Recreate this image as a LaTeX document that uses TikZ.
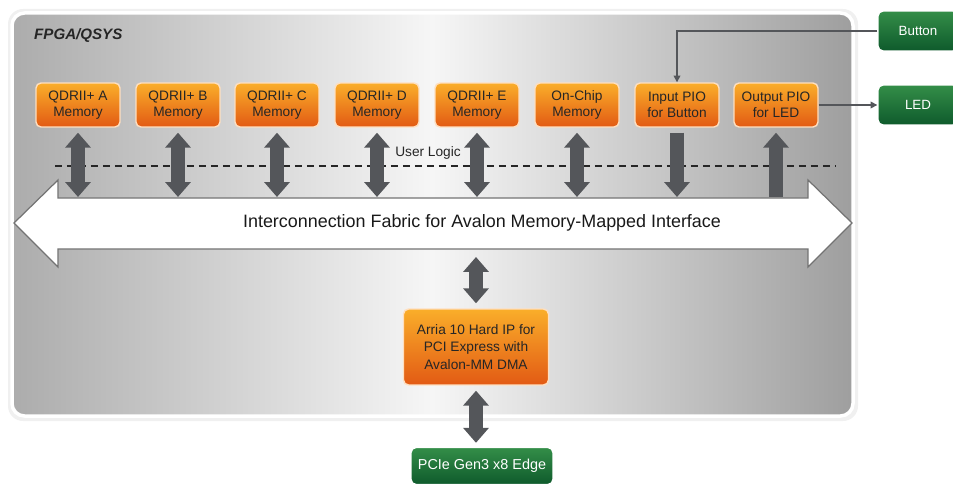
\documentclass[tikz,border=0pt]{standalone}
\usepackage{fontspec}
\setmainfont{Liberation Sans}
\usetikzlibrary{arrows.meta,calc}

\definecolor{orgtop}{RGB}{250,174,42}
\definecolor{orgbot}{RGB}{226,90,20}
\definecolor{grntop}{RGB}{52,142,72}
\definecolor{grnbot}{RGB}{14,90,44}
\definecolor{arrowgray}{RGB}{84,86,90}
\definecolor{panellight}{RGB}{246,246,246}
\definecolor{paneldark}{RGB}{172,172,172}

\begin{document}
\begin{tikzpicture}[x=0.02cm, y=-0.02cm,
  mem/.style={draw=white!75!orange, line width=0.8pt, rounded corners=0.1cm,
    top color=orgtop, bottom color=orgbot, minimum width=1.68cm,
    minimum height=0.88cm, align=center, inner sep=1pt, text=black!85,
    font=\fontsize{7.8}{9.4}\selectfont},
  board/.style={draw=white, line width=0.8pt, rounded corners=0.1cm,
    top color=grntop, bottom color=grnbot, minimum width=1.6cm,
    minimum height=0.8cm, text=white, font=\fontsize{7.6}{9}\selectfont},
  dbl/.style={arrowgray, line width=0.28cm, shorten <=0.1cm,
    {Triangle[width=0.5cm,length=0.3cm]}-{Triangle[width=0.5cm,length=0.3cm]}},
  sgl/.style={arrowgray, line width=0.28cm, -{Triangle[width=0.5cm,length=0.3cm]}},
  wire/.style={arrowgray, line width=0.8pt, -{Triangle[width=3.8pt,length=3.8pt]}}]
\useasboundingbox (0,0) rectangle (953,486);
% panel
\fill[black!6, rounded corners=0.3cm] (8,9) rectangle (858,421);
\draw[white, line width=0.07cm, rounded corners=0.25cm, left color=paneldark,
  right color=paneldark!92!black, middle color=panellight] (12,13) rectangle (853,416);
\node[anchor=west, font=\bfseries\itshape\fontsize{8.6}{10}\selectfont, text=black!85] (fpga) at (28,36) {FPGA/QSYS};
% user logic line
\draw[black!85, line width=1.1pt, dash pattern=on 0.15cm off 0.09cm] (55,166) -- (835,166);
\node[font=\fontsize{7.8}{9}\selectfont, text=black!85] (ulogic) at (428,153) {User Logic};
% avalon bus
\draw[black!55, line width=0.7pt, fill=white] (14,223) -- (58,180) -- (58,198) -- (808,198)
  -- (808,180) -- (852,223) -- (808,267) -- (808,249) -- (58,249) -- (58,267) -- cycle;
\node[font=\fontsize{10.2}{12}\selectfont, text=black!90] (bus) at (482,223)
  {Interconnection Fabric for Avalon Memory-Mapped Interface};
\coordinate (bustop) at (0,197);
\coordinate (busbot) at (0,251);
% components
\foreach \n/\x/\t in {qa/78/{QDRII+ A\\Memory}, qb/178/{QDRII+ B\\Memory},
    qc/277/{QDRII+ C\\Memory}, qd/377/{QDRII+ D\\Memory}, qe/477/{QDRII+ E\\Memory},
    chip/577/{On-Chip\\Memory}, inpio/677/{Input PIO\\for Button}, outpio/776/{Output PIO\\for LED}}
  \node[mem] (\n) at (\x,105) {\t};
\node[mem, minimum width=2.9cm, minimum height=1.52cm, font=\fontsize{7.8}{10}\selectfont]
  (arria) at (476,347) {Arria 10 Hard IP for\\PCI Express with\\Avalon-MM DMA};
\node[board] (btn) at (918,31) {Button};
\node[board] (led) at (918,105) {LED};
\node[board, minimum width=2.84cm, minimum height=0.74cm, font=\fontsize{8.2}{9.6}\selectfont]
  (pcie) at (482,466) {PCIe Gen3 x8 Edge};
% connections
\foreach \n in {qa,qb,qc,qd,qe,chip}
  \draw[dbl] (\n.south) -- (\n.south |- bustop);
\draw[sgl, shorten <=0.1cm] (inpio.south) -- (inpio.south |- bustop);
\draw[sgl, shorten >=0.1cm] (outpio.south |- bustop) -- (outpio.south);
\draw[dbl, shorten >=0.12cm] (arria.north) -- (arria.north |- busbot);
\draw[dbl, shorten >=0.08cm] (arria.south) -- (arria.south |- pcie.north);
\draw[wire] (btn.west) -| (inpio.north);
\draw[wire] (outpio.east) -- (led.west);
\end{tikzpicture}
\end{document}
